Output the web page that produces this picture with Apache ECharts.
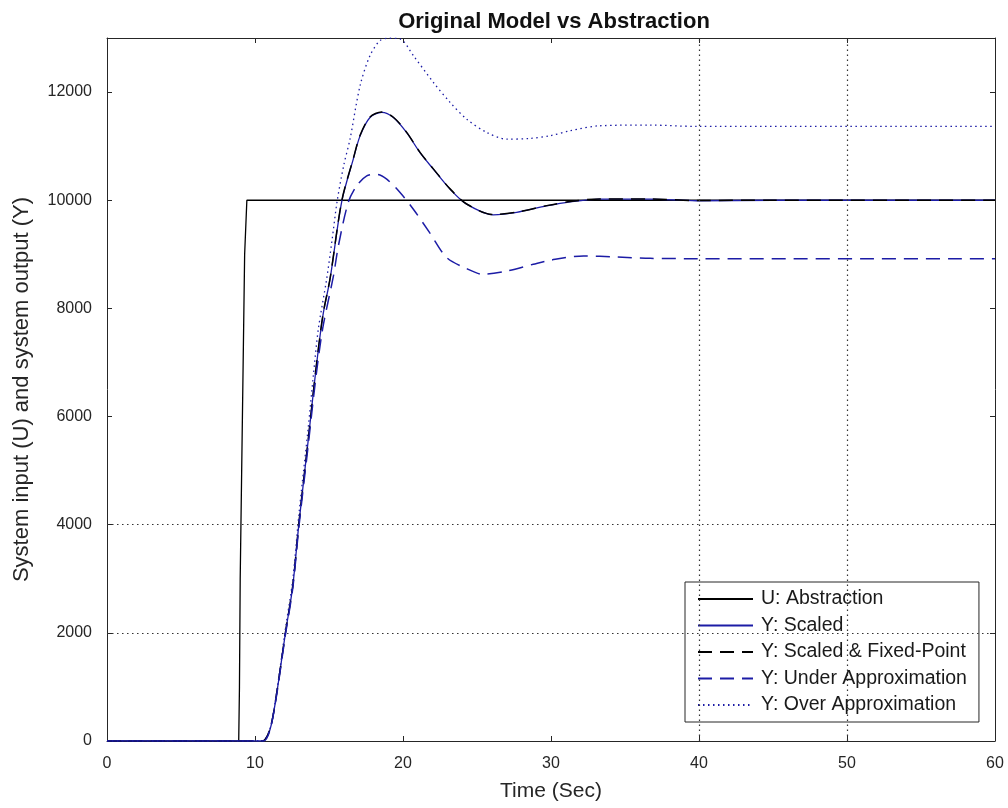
<!DOCTYPE html>
<html><head><meta charset="utf-8">
<script src="https://cdn.jsdelivr.net/npm/echarts@6/dist/echarts.min.js"></script>
<style>html,body{margin:0;padding:0;background:#fff}#c{width:1008px;height:808px}</style>
</head><body><div id="c"></div>
<script>
var xTicks = [0, 10, 20, 30, 40, 50, 60];
var yTicks = [0, 2000, 4000, 6000, 8000, 10000, 12000];
var gridX = [40, 50];
var gridY = [2000, 4000];

var uT = [0, 8.9, 8.95, 9.0, 9.1, 9.2, 9.3, 9.45, 60];
var uV = [0, 0, 1000, 3000, 5000, 7000, 9000, 10000, 10000];

var sT = [0, 10.2, 10.5, 11.0, 11.4, 12.07, 12.55, 12.97, 13.6, 13.94, 14.28, 14.62, 15.07, 15.86, 16.64, 17.1, 17.77, 18.56, 19.35, 20.25, 21.15, 22.05, 23.18, 24.3, 26.1, 27.68, 29.7, 31.3, 33.3, 36.7, 39.8, 45, 60];
var sV = [0, 0, 0, 200, 760, 2020, 2860, 4030, 5570, 6440, 7240, 7920, 8540, 9976, 10760, 11190, 11530, 11625, 11530, 11250, 10880, 10575, 10205, 9927, 9730, 9775, 9895, 9970, 10020, 10020, 9990, 10000, 10000];

var fT = [0, 10.2, 10.5, 11.0, 11.4, 12.07, 12.55, 12.97, 13.6, 13.94, 14.28, 14.62, 15.07, 15.86, 16.64, 17.1, 17.77, 18.56, 19.35, 20.25, 21.15, 22.05, 23.18, 24.3, 26.1, 27.68, 29.7, 31.3, 33.3, 36.7, 39.8, 45, 60];
var fV = [0, 0, 0, 210, 770, 2030, 2870, 4040, 5580, 6450, 7250, 7930, 8550, 9985, 10770, 11200, 11540, 11630, 11535, 11255, 10885, 10580, 10210, 9930, 9735, 9780, 9900, 9975, 10025, 10025, 9995, 10000, 10000];

var uaT = [0, 10.3, 10.6, 11.0, 11.4, 12.07, 12.55, 12.97, 13.6, 13.94, 14.28, 14.62, 15.3, 15.63, 16.3, 16.87, 17.55, 18.22, 18.9, 19.8, 20.7, 21.8, 22.95, 24.3, 25.4, 27.0, 28.8, 29.93, 32.2, 34.4, 36.7, 39.8, 60];
var uaV = [0, 0, 0, 190, 740, 1990, 2820, 3970, 5480, 6320, 7080, 7700, 8600, 9150, 9958, 10266, 10450, 10480, 10390, 10143, 9834, 9400, 8940, 8736, 8630, 8690, 8816, 8890, 8970, 8950, 8925, 8920, 8920];

var oaT = [0, 10.2, 10.5, 11.0, 11.4, 12.07, 12.55, 12.97, 13.6, 13.94, 14.28, 14.84, 15.2, 15.56, 16.0, 16.42, 17.1, 17.77, 18.45, 19.1, 19.8, 20.7, 22.05, 23.18, 24.3, 25.65, 27.0, 28.6, 29.93, 31.3, 33.3, 36.7, 39.8, 60];
var oaV = [0, 0, 0, 215, 790, 2100, 2980, 4200, 5800, 6750, 7620, 8540, 9250, 10000, 10650, 11130, 12118, 12674, 12952, 12995, 12983, 12674, 12180, 11810, 11500, 11254, 11130, 11143, 11192, 11285, 11377, 11390, 11365, 11365];

function pairs(t, v) { return t.map(function (x, i) { return [x, v[i]]; }); }

var BLUE = '#1c1ca6';
var FONT = '"Liberation Sans", Arial, sans-serif';
var chart = echarts.init(document.getElementById('c'), null, { renderer: 'canvas' });

function ax(extra) {
  return Object.assign({
    type: 'value',
    axisLine: { show: true, onZero: false, lineStyle: { color: '#262626', width: 1 } },
    axisTick: { show: true, inside: true, length: 5, lineStyle: { color: '#262626' } },
    splitLine: { show: false }
  }, extra);
}

var gridLines = [];
gridX.forEach(function (x) { gridLines.push({ xAxis: x }); });
gridY.forEach(function (y) { gridLines.push({ yAxis: y }); });

chart.setOption({
  animation: false,
  backgroundColor: '#fff',
  title: {
    text: 'Original Model vs Abstraction', left: 549, top: 6, textAlign: 'center',
    textStyle: { fontFamily: FONT, fontSize: 22, fontWeight: 'bold', color: '#111' }
  },
  grid: { left: 107, right: 13, top: 38, bottom: 67, containLabel: false },
  xAxis: [
    ax({
      min: 0, max: 60, interval: 10, position: 'bottom',
      name: 'Time (Sec)', nameLocation: 'middle', nameGap: 40,
      nameTextStyle: { fontFamily: FONT, fontSize: 21, color: '#262626' },
      axisLabel: { margin: 15, fontFamily: FONT, fontSize: 16, color: '#262626',
        formatter: function (v) { return xTicks.indexOf(v) >= 0 ? String(v) : ''; } }
    }),
    ax({ min: 0, max: 60, interval: 10, position: 'top', axisLabel: { show: false } })
  ],
  yAxis: [
    ax({
      min: 0, max: 13000, interval: 2000, position: 'left',
      name: 'System input (U) and system output (Y)', nameLocation: 'middle', nameGap: 74,
      nameTextStyle: { fontFamily: FONT, fontSize: 22, color: '#262626' },
      axisLabel: { margin: 15, fontFamily: FONT, fontSize: 16, color: '#262626', showMaxLabel: false,
        formatter: function (v) { return yTicks.indexOf(v) >= 0 ? String(v) : ''; } }
    }),
    ax({ min: 0, max: 13000, interval: 2000, position: 'right', axisLabel: { show: false } })
  ],
  legend: {
    orient: 'vertical', left: 685, top: 582,
    backgroundColor: '#fff', borderColor: '#262626', borderWidth: 1, borderRadius: 0,
    padding: [7, 12, 7, 12], itemGap: 6.5, itemWidth: 55, itemHeight: 14,
    itemStyle: { opacity: 0 },
    textStyle: { fontFamily: FONT, fontSize: 19.5, lineHeight: 20, color: '#1a1a1a', padding: [0, 0, 0, 3] },
    data: ['U: Abstraction', 'Y: Scaled', 'Y: Scaled & Fixed-Point', 'Y: Under Approximation', 'Y: Over Approximation']
  },
  series: [
    {
      name: 'U: Abstraction', type: 'line', showSymbol: false, symbol: 'none',
      data: pairs(uT, uV), lineStyle: { color: '#000', width: 1.3 }, itemStyle: { color: '#000' },
      markLine: {
        silent: true, symbol: 'none', label: { show: false }, animation: false,
        lineStyle: { color: '#333', width: 1.2, type: [1.5, 3.5] },
        emphasis: { disabled: true },
        data: gridLines
      }
    },
    {
      name: 'Y: Scaled', type: 'line', showSymbol: false, symbol: 'none', smooth: 0.3,
      data: pairs(sT, sV), lineStyle: { color: BLUE, width: 1.3 }, itemStyle: { color: BLUE }
    },
    {
      name: 'Y: Scaled & Fixed-Point', type: 'line', showSymbol: false, symbol: 'none', smooth: 0.3,
      data: pairs(fT, fV), lineStyle: { color: '#000', width: 1.5, type: [14, 8] }, itemStyle: { color: '#000' }
    },
    {
      name: 'Y: Under Approximation', type: 'line', showSymbol: false, symbol: 'none', smooth: 0.3,
      data: pairs(uaT, uaV), lineStyle: { color: BLUE, width: 1.5, type: [14, 8] }, itemStyle: { color: BLUE }
    },
    {
      name: 'Y: Over Approximation', type: 'line', showSymbol: false, symbol: 'none', smooth: 0.3,
      data: pairs(oaT, oaV), lineStyle: { color: BLUE, width: 1.3, type: [1.5, 3.5] }, itemStyle: { color: BLUE }
    }
  ]
});
</script></body></html>
